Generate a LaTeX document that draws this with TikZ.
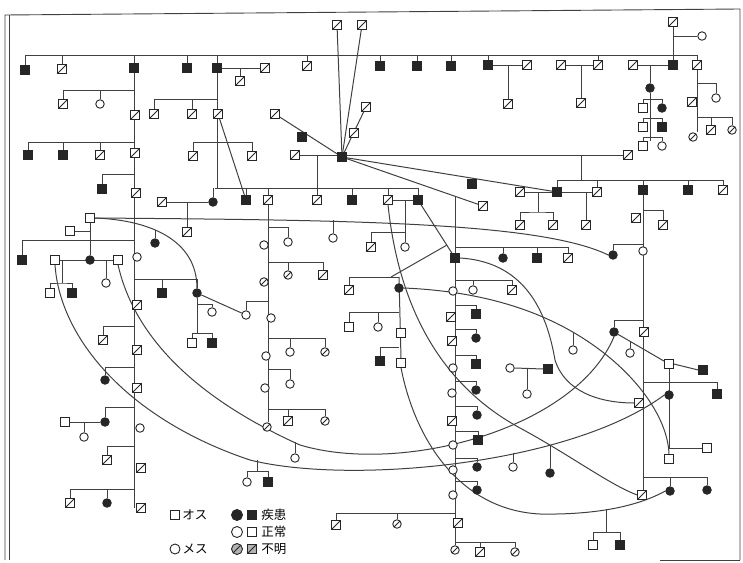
\documentclass[tikz,border=0pt]{standalone}
\usepackage{fontspec}
\newfontfamily\jpfont{Noto Sans CJK JP}
\usepackage{tikz}
\usetikzlibrary{positioning}
\pgfdeclarelayer{bg}
\pgfsetlayers{bg,main}

\begin{document}
\begin{tikzpicture}[
    x=1pt, y=-1pt,
    % Individual symbols (square = male, circle = female)
    indiv/.style={
        draw=black!85,
        line width=0.9pt,
        fill=white,
        inner sep=0pt,
        minimum size=8.5pt
    },
    male/.style={indiv, rectangle},
    female/.style={indiv, circle},
    % Affected: solid black
    maleA/.style={male, fill=black!85},
    femaleA/.style={female, fill=black!85},
    % Unknown status: slashed symbol
    slashed/.style={
        path picture={\draw[black!85, line width=0.8pt]
            (path picture bounding box.south west) -- (path picture bounding box.north east);}
    },
    maleU/.style={male, slashed},
    femaleU/.style={female, slashed},
    % Lines of descent
    link/.style={draw=black!75, line width=1pt},
    % Legend text
    legtext/.style={font=\jpfont\fontsize{12.5}{12.5}\selectfont, inner sep=0pt}
]
\useasboundingbox (0,0) rectangle (743,562);

% --- Frame of the scanned page ---
\draw[black!75, line width=0.9pt] (5,560) -- (5,15) -- (740,9) -- (740,560);
\draw[black!75, line width=0.9pt] (9,15) -- (9,560);
\draw[black!75, line width=0.9pt] (660,560) -- (740,560);

% --- TOP GENERATION ---
\node[maleA] (t1) at (25,70) {};
\node[maleU] (t2) at (62,69) {};
\node[maleA] (t3) at (134,68) {};
\node[maleA] (t4) at (187,68) {};
\node[maleA] (t5) at (217,68) {};
\node[maleU] (t6) at (265,68) {};
\node[maleU] (t7) at (240,81) {};
\node[maleU] (t8) at (307,66) {};
\node[maleA] (t9) at (380,66) {};
\node[maleA] (t10) at (417,66) {};
\node[maleA] (t11) at (451,66) {};
\node[maleA] (t12) at (488,65) {};
\node[maleU] (t13) at (527,65) {};
\node[maleU] (t14) at (508,104) {};
\node[maleU] (t15) at (561,65) {};
\node[maleU] (t16) at (598,65) {};
\node[maleU] (t17) at (581,103) {};
\node[maleU] (t18) at (633,65) {};
\node[maleA] (t19) at (673,65) {};
\node[maleU] (t20) at (673,22) {};
\node[female] (t21) at (702,36) {};
\node[maleU] (t22) at (697,65) {};

% --- Top right family ---
\node[femaleA] (r1) at (650,88) {};
\node[male] (r2) at (643,108) {};
\node[femaleA] (r3) at (662,108) {};
\node[male] (r4) at (643,127) {};
\node[maleA] (r5) at (662,127) {};
\node[male] (r6) at (643,146) {};
\node[female] (r7) at (662,146) {};
\node[maleU] (r8) at (692,102) {};
\node[female] (r9) at (716,98) {};
\node[maleU] (r10) at (711,130) {};
\node[femaleU] (r11) at (732,130) {};
\node[femaleU] (r12) at (693,137) {};

% --- Central hub male and his offspring lines ---
\node[maleA] (h0) at (342,157) {};
\node[maleU] (h1) at (337,25) {};
\node[maleU] (h2) at (362,25) {};
\node[maleU] (h3) at (366,107) {};
\node[maleU] (h4) at (354,133) {};
\node[maleU] (h5) at (275,114) {};
\node[maleA] (h6) at (302,137) {};
\node[maleU] (h7) at (295,155) {};
\node[maleU] (h8) at (628,155) {};
\node[maleA] (h9) at (472,184) {};

% --- Right middle families ---
\node[maleU] (m1) at (520,192) {};
\node[maleA] (m2) at (557,192) {};
\node[maleU] (m3) at (597,192) {};
\node[maleA] (m4) at (643,190) {};
\node[maleA] (m5) at (688,190) {};
\node[maleU] (m6) at (723,190) {};
\node[maleU] (m7) at (520,225) {};
\node[maleU] (m8) at (553,225) {};
\node[maleU] (m9) at (483,206) {};
\node[maleU] (m10) at (586,225) {};
\node[maleU] (m11) at (636,218) {};
\node[maleU] (m12) at (663,225) {};
\node[femaleA] (m13) at (613,255) {};
\node[female] (m14) at (643,251) {};
\node[femaleA] (m15) at (614,332) {};
\node[maleU] (m16) at (644,332) {};
\node[male] (m17) at (669,364) {};
\node[maleA] (m18) at (703,370) {};
\node[female] (m19) at (630,353) {};
\node[maleA] (m20) at (717,394) {};
\node[femaleA] (m21) at (669,395) {};
\node[male] (m22) at (707,448) {};
\node[male] (m23) at (669,459) {};
\node[femaleA] (m24) at (670,491) {};
\node[femaleA] (m25) at (707,490) {};
\node[maleU] (m26) at (642,495) {};
\node[maleU] (m27) at (639,403) {};

\node[femaleA] (n1) at (503,258) {};
\node[maleA] (n2) at (537,258) {};
\node[maleU] (n3) at (568,258) {};
\node[female] (n4) at (473,290) {};
\node[maleU] (n5) at (512,290) {};
\node[female] (n6) at (510,368) {};
\node[maleA] (n7) at (548,369) {};
\node[female] (n8) at (527,394) {};
\node[female] (n9) at (573,350) {};
\node[female] (n10) at (513,467) {};
\node[femaleA] (n11) at (550,473) {};
\node[male] (n12) at (593,545) {};
\node[maleA] (n13) at (620,545) {};

% --- Long sibship at x = 455 ---
\node[maleA] (c0) at (455,258) {};
\node[female] (c1) at (453,291) {};
\node[maleU] (c2) at (451,317) {};
\node[maleU] (c3) at (452,341) {};
\node[female] (c4) at (453,368) {};
\node[female] (c5) at (452,393) {};
\node[maleU] (c6) at (452,421) {};
\node[female] (c7) at (453,445) {};
\node[female] (c8) at (453,470) {};
\node[female] (c9) at (453,495) {};
\node[maleU] (c10) at (458,523) {};
\node[femaleU] (c11) at (455,550) {};
\node[maleA] (c12) at (476,314) {};
\node[femaleA] (c13) at (476,338) {};
\node[maleA] (c14) at (476,364) {};
\node[femaleA] (c15) at (476,390) {};
\node[femaleA] (c16) at (477,415) {};
\node[maleA] (c17) at (478,440) {};
\node[femaleA] (c18) at (477,467) {};
\node[femaleA] (c19) at (477,490) {};
\node[maleU] (c20) at (336,525) {};
\node[femaleU] (c21) at (397,524) {};
\node[maleU] (c22) at (480,552) {};
\node[femaleU] (c23) at (515,552) {};

% --- Second generation row under the hub ---
\node[maleU] (s0) at (162,202) {};
\node[femaleA] (s1) at (213,202) {};
\node[maleU] (s2) at (187,232) {};
\node[maleA] (s3) at (246,200) {};
\node[maleU] (s4) at (268,200) {};
\node[maleU] (s5) at (317,200) {};
\node[maleA] (s6) at (352,200) {};
\node[maleU] (s7) at (388,200) {};
\node[maleA] (s8) at (418,200) {};
\node[female] (s9) at (405,247) {};
\node[maleU] (s10) at (371,247) {};
\node[female] (s11) at (333,238) {};

% --- Sibship at x = 268 ---
\node[female] (k1) at (264,245) {};
\node[femaleU] (k2) at (264,282) {};
\node[female] (k3) at (271,318) {};
\node[female] (k4) at (266,356) {};
\node[female] (k5) at (265,388) {};
\node[femaleU] (k6) at (267,427) {};
\node[female] (k7) at (288,242) {};
\node[femaleU] (k8) at (288,275) {};
\node[maleU] (k9) at (323,275) {};
\node[female] (k10) at (246,315) {};
\node[female] (k11) at (290,352) {};
\node[femaleU] (k12) at (325,352) {};
\node[female] (k13) at (290,384) {};
\node[maleU] (k14) at (288,421) {};
\node[femaleU] (k15) at (325,421) {};
\node[female] (f1) at (295,458) {};

% --- Sibship at x = 399 ---
\node[femaleA] (w1) at (399,288) {};
\node[maleU] (w2) at (349,290) {};
\node[male] (w3) at (349,327) {};
\node[female] (w4) at (378,327) {};
\node[male] (w5) at (401,333) {};
\node[maleA] (w6) at (380,361) {};
\node[male] (w7) at (401,363) {};

% --- Sibship at x = 217 ---
\node[maleU] (u1) at (154,114) {};
\node[maleU] (u2) at (192,114) {};
\node[maleU] (u3) at (218,114) {};
\node[maleU] (u4) at (193,156) {};
\node[maleU] (u5) at (252,156) {};

% --- Long sibship at x = 134 ---
\node[maleU] (v1) at (63,104) {};
\node[female] (v2) at (100,104) {};
\node[maleU] (v3) at (135,115) {};
\node[maleA] (v4) at (28,155) {};
\node[maleA] (v5) at (63,155) {};
\node[maleU] (v6) at (100,155) {};
\node[maleU] (v7) at (135,153) {};
\node[maleA] (v8) at (102,189) {};
\node[maleU] (v9) at (136,193) {};
\node[male] (v10) at (90,218) {};
\node[male] (v11) at (70,231) {};
\node[maleA] (v12) at (22,260) {};
\node[male] (v13) at (55,260) {};
\node[femaleA] (v14) at (90,260) {};
\node[male] (v15) at (118,260) {};
\node[female] (v16) at (106,283) {};
\node[male] (v17) at (50,293) {};
\node[maleA] (v18) at (72,293) {};
\node[female] (v19) at (137,257) {};
\node[maleA] (v20) at (162,293) {};
\node[femaleA] (v21) at (197,293) {};
\node[femaleA] (v22) at (155,243) {};
\node[female] (v23) at (212,312) {};
\node[male] (v24) at (192,343) {};
\node[maleA] (v25) at (212,343) {};
\node[maleU] (v26) at (137,305) {};
\node[maleU] (v27) at (137,350) {};
\node[maleU] (v28) at (103,340) {};
\node[femaleA] (v29) at (105,380) {};
\node[maleU] (v30) at (137,388) {};
\node[femaleA] (v31) at (105,422) {};
\node[male] (v32) at (65,422) {};
\node[female] (v33) at (84,437) {};
\node[female] (v34) at (140,428) {};
\node[maleU] (v35) at (107,460) {};
\node[maleU] (v36) at (141,468) {};
\node[maleU] (v37) at (70,503) {};
\node[femaleA] (v38) at (107,503) {};
\node[maleU] (v39) at (141,508) {};

% --- Small family above the legend ---
\node[female] (g1) at (247,482) {};
\node[maleA] (g2) at (268,482) {};

% --- Legend ---
\node[male, minimum size=9.5pt] (lgM) at (175,515) {};
\node[legtext, right=2pt of lgM] (lgMt) {オス};
\node[female, minimum size=10pt] (lgF) at (175,549) {};
\node[legtext, right=2pt of lgF] (lgFt) {メス};
\node[femaleA, minimum size=11pt] (lgA1) at (237,515) {};
\node[maleA, minimum size=9.5pt] (lgA2) at (252,515) {};
\node[legtext, right=4pt of lgA2] (lgAt) {疾患};
\node[female, minimum size=11pt] (lgN1) at (237,532) {};
\node[male, minimum size=9.5pt] (lgN2) at (252,532) {};
\node[legtext, right=4pt of lgN2] (lgNt) {正常};
\node[female, fill=black!30, slashed, minimum size=11pt] (lgU1) at (237,549) {};
\node[male, fill=black!30, slashed, minimum size=9.5pt] (lgU2) at (252,549) {};
\node[legtext, right=4pt of lgU2] (lgUt) {不明};

% ================= CONNECTORS (behind the symbols) =================
\begin{pgfonlayer}{bg}
% top sibship bar
\coordinate (topL) at (25,55);
\coordinate (topR) at (697,55);
\draw[link] (topL) -- (topR);
\foreach \n in {t1,t2,t3,t4,t5,t8,t9,t10,t11,t12,t16,t22}
    \draw[link] (\n.north) -- (\n.north |- topL);
\draw[link] (t5.east) -- (t6.west);
\draw[link] (t7.north) -- (t7.north |- t5);
\draw[link] (t12.east) -- (t13.west);
\draw[link] (t14.north) -- (t14.north |- t12);
\draw[link] (t15.east) -- (t16.west);
\draw[link] (t17.north) -- (t17.north |- t15);
\draw[link] (t18.east) -- (t19.west);
\draw[link] (t20.south) -- (t19.north);
\draw[link] (t20.south |- t21) -- (t21.west);

% top right family
\draw[link] (r1.north) -- (r1.north |- t18);
\draw[link] (r1.south) -- (r1.south |- r6.north);
\draw[link] (r2.north) -- ++(0,-4) -| (r3.north);
\draw[link] (r4.north) -- ++(0,-4) -| (r5.north);
\draw[link] (r6.north) -- ++(0,-4) -| (r7.north);
\coordinate (k83) at (697,83);
\coordinate (k117) at (697,117);
\draw[link] (t22.south) -- (t22.south |- r12.north);
\draw[link] (k83) -| (r9.north);
\draw[link] (k117) -| (r11.north);
\draw[link] (r10.north) -- (r10.north |- k117);

% hub
\foreach \n in {h1,h2,h3,h5,m2,m9}
    \draw[link] (h0) -- (\n);
\draw[link] (h7.east) -- (h8.west);
\coordinate (k317) at (317,155);
\coordinate (sL) at (215,188);
\coordinate (sR) at (418,188);
\draw[link] (k317) -- (k317 |- sL);
\draw[link] (sL) -- (sR);
\foreach \n in {s1,s3,s4,s5,s6,s7,s8}
    \draw[link] (\n.north) -- (\n.north |- sL);
\draw[link] (s0.east) -- (s1.west);
\draw[link] (s2.north) -- (s2.north |- s0);
\draw[link] (s7.east) -- (s8.west);
\draw[link] (s9.north) -- (s9.north |- s7);
\draw[link] (s10.north) -- ++(0,-10) -| (s9.north);
\draw[link] (s11.north) -- ++(0,-13);
\draw[link] (s8) -- (c0);

% right middle
\coordinate (k581) at (581,155);
\coordinate (k180) at (581,180);
\draw[link] (k581) -- (k180);
\draw[link] (m2.north) |- (m6.north |- k180) -- (m6.north);
\foreach \n in {m3,m4,m5}
    \draw[link] (\n.north) -- (\n.north |- k180);
\draw[link] (m1.east) -- (m3.west);
\coordinate (k538) at (538,192);
\draw[link] (k538) -- ++(0,20) coordinate (k538b);
\draw[link] (m7.north) |- (k538b) -| (m8.north);
\draw[link] (m10.north) -- (m10.north |- m3);
\draw[link] (m4.south) -- (m4.south |- m26.north);
\coordinate (q210) at (643,210);
\coordinate (q244) at (643,244);
\coordinate (q320) at (643,320);
\coordinate (q382) at (643,382);
\coordinate (q477) at (643,477);
\draw[link] (q210) -| (m12.north);
\draw[link] (q244) -| (m13.north);
\draw[link] (q320) -| (m15.north);
\draw[link] (q382) -| (m20.north);
\draw[link] (q477) -| (m25.north);
\draw[link] (m24.north) -- (m24.north |- q477);
\draw[link] (m15) -- (m17);
\draw[link] (m19.north) -- ++(0,-6);
\draw[link] (m17.east) -- (m18.west);
\draw[link] (m17.south) -- (m17.south |- m22) -- (m22.west);
\coordinate (p247) at (455,247);
\coordinate (p280) at (455,280);
\draw[link] (p247) -| (n3.north);
\foreach \n in {n1,n2}
    \draw[link] (\n.north) -- (\n.north |- p247);
\draw[link] (p280) -| (n5.north);
\draw[link] (n4.north) -- (n4.north |- p280);
\draw[link] (n6.east) -- (n7.west);
\draw[link] (n8.north) -- (n8.north |- n6);
\draw[link] (n9.north) -- ++(0,-13);
\draw[link] (n10.north) -- ++(0,-9);
\draw[link] (n11.north) -- ++(0,-22);
\draw[link] (n12.north) -- ++(0,-8) -| (n13.north);
\draw[link] (n12.north) ++(13.5,-8) -- ++(0,-23);

% column x = 455
\coordinate (ctop) at (455,196);
\draw[link] (ctop) -- (ctop |- c11.north);
\foreach \n in {c12,c13,c14,c15,c16,c17,c18,c19}
    \draw[link] (ctop |- \n.north) ++(0,-4) -| (\n.north);
\draw[link] (ctop |- c21.north) ++(0,-6) -| (c20.north);
\draw[link] (c21.north) -- ++(0,-6);
\draw[link] (ctop |- c23.north) ++(0,-5) -| (c23.north);
\draw[link] (c22.north) -- ++(0,-5);

% column x = 268
\draw[link] (s4.south) -- (s4.south |- k6.north);
\draw[link] (s4 |- k7.north) ++(0,-10) -| (k7.north);
\draw[link] (s4 |- k9.north) ++(0,-8) -| (k9.north);
\draw[link] (k8.north) -- ++(0,-8);
\draw[link] (s4 |- k10.north) ++(0,-9) -| (k10.north);
\draw[link] (s4 |- k12.north) ++(0,-9) -| (k12.north);
\draw[link] (k11.north) -- ++(0,-9);
\draw[link] (s4 |- k13.north) ++(0,-10) -| (k13.north);
\draw[link] (s4 |- k15.north) ++(0,-7) -| (k15.north);
\draw[link] (k14.north) -- ++(0,-7);
\draw[link] (f1.north) -- ++(0,-11);

% column x = 399
\coordinate (wtop) at (399,277);
\coordinate (p245) at (447,245);
\draw[link] (wtop) -| (w2.north);
\draw[link] (wtop) -- (w7.north);
\draw[link] (wtop) ++(-8,0) -- (p245);
\draw[link] (w1 |- w3.north) ++(0,-10) -| (w3.north);
\draw[link] (w4.north) -- ++(0,-10);
\draw[link] (w1 |- w6.north) ++(0,-9) -| (w6.north);

% column x = 217
\draw[link] (t5.south) -- (t5.south |- sL);
\draw[link] (t5 |- u1.north) ++(0,-10) -| (u1.north);
\draw[link] (u2.north) -- ++(0,-10);
\draw[link] (u4.north) -- ++(0,-9) -| (u5.north);
\draw[link] (u3) -- (s3);

% column x = 134
\draw[link] (t3.south) -- (t3.south |- v39.center);
\draw[link] (t3 |- v1.north) ++(0,-9) -| (v1.north);
\draw[link] (v2.north) -- ++(0,-9);
\draw[link] (t3 |- v4.north) ++(0,-8) -| (v4.north);
\foreach \n in {v5,v6}
    \draw[link] (\n.north) -- ++(0,-8);
\draw[link] (t3 |- v8.north) ++(0,-10) -| (v8.north);
\draw[link] (v11.east) -- (v11.east -| v10);
\draw[link] (v10.south) -- (v14.north);
\draw[link] (t3 |- v12.north) ++(0,-15) -| (v12.north);
\draw[link] (v13.east) -- (v15.west);
\draw[link] (v16.north) -- (v16.north |- v13);
\coordinate (k62) at (62,260);
\draw[link] (k62) -- ++(0,23) coordinate (k62b);
\draw[link] (v17.north) |- (k62b) -| (v18.north);
\draw[link] (t3 |- v21.north) ++(0,-9) -| (v21.north);
\draw[link] (v20.north) -- ++(0,-9);
\draw[link] (v22.north) -- ++(0,-8);
\draw[link] (v21.south) -- ++(0,36) coordinate (k333);
\draw[link] (v24.north) |- (k333) -| (v25.north);
\draw[link] (v21 |- v23.north) ++(0,-3) -| (v23.north);
\draw[link] (v21) -- (k10);
\draw[link] (t3 |- v28.north) ++(0,-9) -| (v28.north);
\draw[link] (t3 |- v29.north) ++(0,-8) -| (v29.north);
\draw[link] (t3 |- v31.north) ++(0,-10) -| (v31.north);
\draw[link] (v32.east) -- (v31.west);
\draw[link] (v33.north) -- (v33.north |- v32);
\draw[link] (t3 |- v35.north) ++(0,-9) -| (v35.north);
\draw[link] (t3 |- v38.north) ++(0,-9) -| (v37.north);
\draw[link] (v38.north) -- ++(0,-9);

% family above the legend
\draw[link] (g1.north) -- ++(0,-6) -| (g2.north);
\draw[link] (g1.north) ++(10.5,-6) -- ++(0,-11);

% long curved links between repeated individuals
\draw[link] (v10.east) .. controls (350,220) and (540,222) .. (m13.west);
\draw[link] (v10.east) .. controls (150,220) and (197,240) .. (v21.north);
\draw[link] (v15.south) .. controls (135,340) and (200,400) .. (300,445)
    .. controls (400,475) and (575,430) .. (m15.south);
\draw[link] (v13.south) .. controls (60,340) and (130,420) .. (250,460)
    .. controls (350,485) and (570,465) .. (m21.west);
\draw[link] (s7.south) .. controls (400,320) and (450,390) .. (520,428)
    .. controls (570,455) and (610,485) .. (m26.west);
\draw[link] (w7.south) .. controls (415,440) and (460,510) .. (540,514)
    .. controls (600,515) and (640,505) .. (m24.west);
\draw[link] (w1.east) .. controls (500,292) and (560,320) .. (600,350)
    .. controls (640,380) and (668,420) .. (m23.north);
\draw[link] (c0.east) .. controls (530,262) and (548,320) .. (555,360)
    .. controls (565,392) and (600,403) .. (m27.west);
\end{pgfonlayer}

\end{tikzpicture}
\end{document}
